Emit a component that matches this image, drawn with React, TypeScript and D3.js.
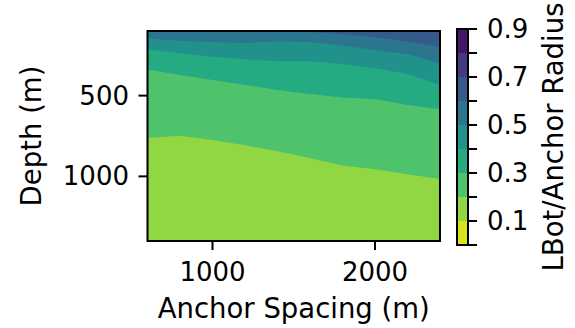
import React from 'react';
import * as d3 from 'd3';

// contour levels of LBot/Anchor Radius
const levels = [0, 0.1, 0.2, 0.3, 0.4, 0.5, 0.6, 0.7, 0.8, 0.9];
const cbarTicks = [0.1, 0.3, 0.5, 0.7, 0.9];
const xTicks = [1000, 2000];
const yTicks = [500, 1000];

// anchor spacing (m) where the contour lines were read
const spacing = [600, 800, 1000, 1200, 1400, 1600, 1800, 2000, 2200, 2400];
// depth (m) of each contour line along spacing
const depth02 = [762, 748, 775, 808, 845, 886, 932, 956, 987, 1016];
const depth03 = [339, 372, 403, 434, 465, 490, 511, 523, 558, 585];
const depth04 = [214, 238, 259, 275, 288, 288, 304, 331, 366, 434];
const depth05 = [147, 160, 168, 174, 164, 168, 189, 218, 244, 300];
const depth06 = [40, 50, 60, 70, 80, 106, 118, 138, 165, 197];

const contourLines = [
  { level: 0.2, depth: depth02 },
  { level: 0.3, depth: depth03 },
  { level: 0.4, depth: depth04 },
  { level: 0.5, depth: depth05 },
  { level: 0.6, depth: depth06 },
];

const W = 575;
const H = 328;
const FONT = '"DejaVu Sans", sans-serif';
const FS = 26;
const LABEL_FS = 27.5;

// colour of band i (between levels[i] and levels[i+1]), viridis reversed
const bandColor = (i: number) => d3.interpolateViridis(1 - (i + 0.5) / (levels.length - 1));

export default function App() {
  const x = d3.scaleLinear().domain([600, 2400]).range([147.5, 440]);
  const y = d3.scaleLinear().domain([100, 1400]).range([31, 241]);
  const cb = d3.scaleLinear().domain([0, 0.9]).range([245, 29]);

  const [x0, x1] = x.range();
  const [y0, y1] = y.range();

  const area = d3.area<number>()
    .x((_, i) => x(spacing[i]))
    .y0(y0 - 40)
    .y1(d => y(d));

  const cbX = 457;
  const cbW = 11;

  return (
    <svg width={W} height={H} style={{ position: 'absolute', left: 0, top: 0, background: '#fff' }}
      fontFamily={FONT}>
      <defs>
        <clipPath id="plot-clip">
          <rect x={x0} y={y0} width={x1 - x0} height={y1 - y0} />
        </clipPath>
      </defs>

      {/* filled contours */}
      <g clipPath="url(#plot-clip)">
        <rect x={x0} y={y0} width={x1 - x0} height={y1 - y0} fill={bandColor(1)} />
        {contourLines.map(c => {
          const idx = Math.round(c.level * 10);
          return <path key={c.level} d={area(c.depth) || ''} fill={bandColor(idx)} />;
        })}
      </g>
      <rect x={x0} y={y0} width={x1 - x0} height={y1 - y0} fill="none" stroke="#000" strokeWidth={2} />

      {/* x axis */}
      {xTicks.map(t => (
        <g key={t}>
          <line x1={x(t)} x2={x(t)} y1={y1} y2={y1 + 9} stroke="#000" strokeWidth={2} />
          <text x={x(t)} y={281} textAnchor="middle" fontSize={FS}>{t}</text>
        </g>
      ))}
      <text x={(x0 + x1) / 2} y={318} textAnchor="middle" fontSize={LABEL_FS}>Anchor Spacing (m)</text>

      {/* y axis */}
      {yTicks.map(t => (
        <g key={t}>
          <line x1={x0 - 9} x2={x0} y1={y(t)} y2={y(t)} stroke="#000" strokeWidth={2} />
          <text x={129} y={y(t)} textAnchor="end" dominantBaseline="central" fontSize={FS}>{t}</text>
        </g>
      ))}
      <text transform={`translate(41,${(y0 + y1) / 2}) rotate(-90)`} textAnchor="middle" fontSize={LABEL_FS}>
        Depth (m)
      </text>

      {/* colorbar */}
      {levels.slice(0, -1).map((l, i) => (
        <rect key={l} x={cbX} y={cb(levels[i + 1])} width={cbW} height={cb(l) - cb(levels[i + 1])}
          fill={bandColor(i)} />
      ))}
      <rect x={cbX} y={cb(0.9)} width={cbW} height={cb(0) - cb(0.9)} fill="none" stroke="#000" strokeWidth={2} />
      {levels.map(l => (
        <line key={l} x1={cbX + cbW} x2={cbX + cbW + 9} y1={cb(l)} y2={cb(l)} stroke="#000" strokeWidth={2} />
      ))}
      {cbarTicks.map(t => (
        <text key={t} x={487} y={cb(t)} dominantBaseline="central" fontSize={FS}>{t.toFixed(1)}</text>
      ))}
      <text transform={`translate(563,${(cb(0) + cb(0.9)) / 2}) rotate(-90)`} textAnchor="middle" fontSize={LABEL_FS}>
        LBot/Anchor Radius
      </text>
    </svg>
  );
}
